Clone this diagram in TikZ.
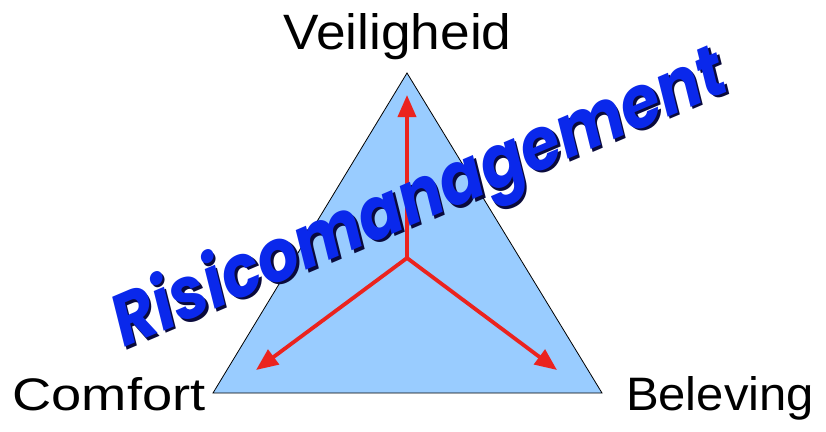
\documentclass[tikz,border=0pt]{standalone}
\usepackage{fontspec}
\setmainfont{Liberation Sans}
\newfontfamily\risfont{Poppins}
\usetikzlibrary{arrows.meta}
\definecolor{triblue}{RGB}{153,204,255}
\definecolor{arrred}{RGB}{235,35,30}
\definecolor{risblue}{RGB}{10,40,235}
\definecolor{risshadow}{RGB}{10,10,60}
\begin{document}
\begin{tikzpicture}[x=1pt,y=-1pt,
  lbl/.style={anchor=base, inner sep=0pt, font=\fontsize{40}{40}\selectfont},
  arr/.style={draw=arrred, line width=3.8pt, line cap=round, -{Triangle[length=22pt,width=18pt]}},
  ris/.style={anchor=base, inner sep=0pt, rotate=23, font=\risfont\bfseries\itshape\fontsize{60}{60}\selectfont}]
\useasboundingbox (0,0) rectangle (826,431);
\coordinate (T) at (407,73);
\coordinate (L) at (213,393);
\coordinate (R) at (602,393);
\filldraw[fill=triblue, draw=black, line width=0.8pt, line join=miter] (T) -- (L) -- (R) -- cycle;
\coordinate (C) at (407,258);
\coordinate (aT) at (407,95);
\coordinate (aL) at (256,370);
\coordinate (aR) at (557,370);
\draw[arr] (C) -- (aT);
\draw[arr] (C) -- (aL);
\draw[arr] (C) -- (aR);
\node[lbl] (veil) at (397.5,49) {\resizebox{228pt}{36pt}{Veiligheid}};
\node[lbl] (comf) at (109,410) {\resizebox{193pt}{33pt}{Comfort}};
\node[lbl] (bel) at (720,410) {\resizebox{188pt}{34pt}{Beleving}};
\node[ris, text=risshadow] (rmshadow) at (430.5,221.5) {\resizebox{660pt}{58pt}{Risicomanagement}};
\node[ris, text=risblue] (rm) at (428,219) {\resizebox{660pt}{58pt}{Risicomanagement}};
\end{tikzpicture}
\end{document}
